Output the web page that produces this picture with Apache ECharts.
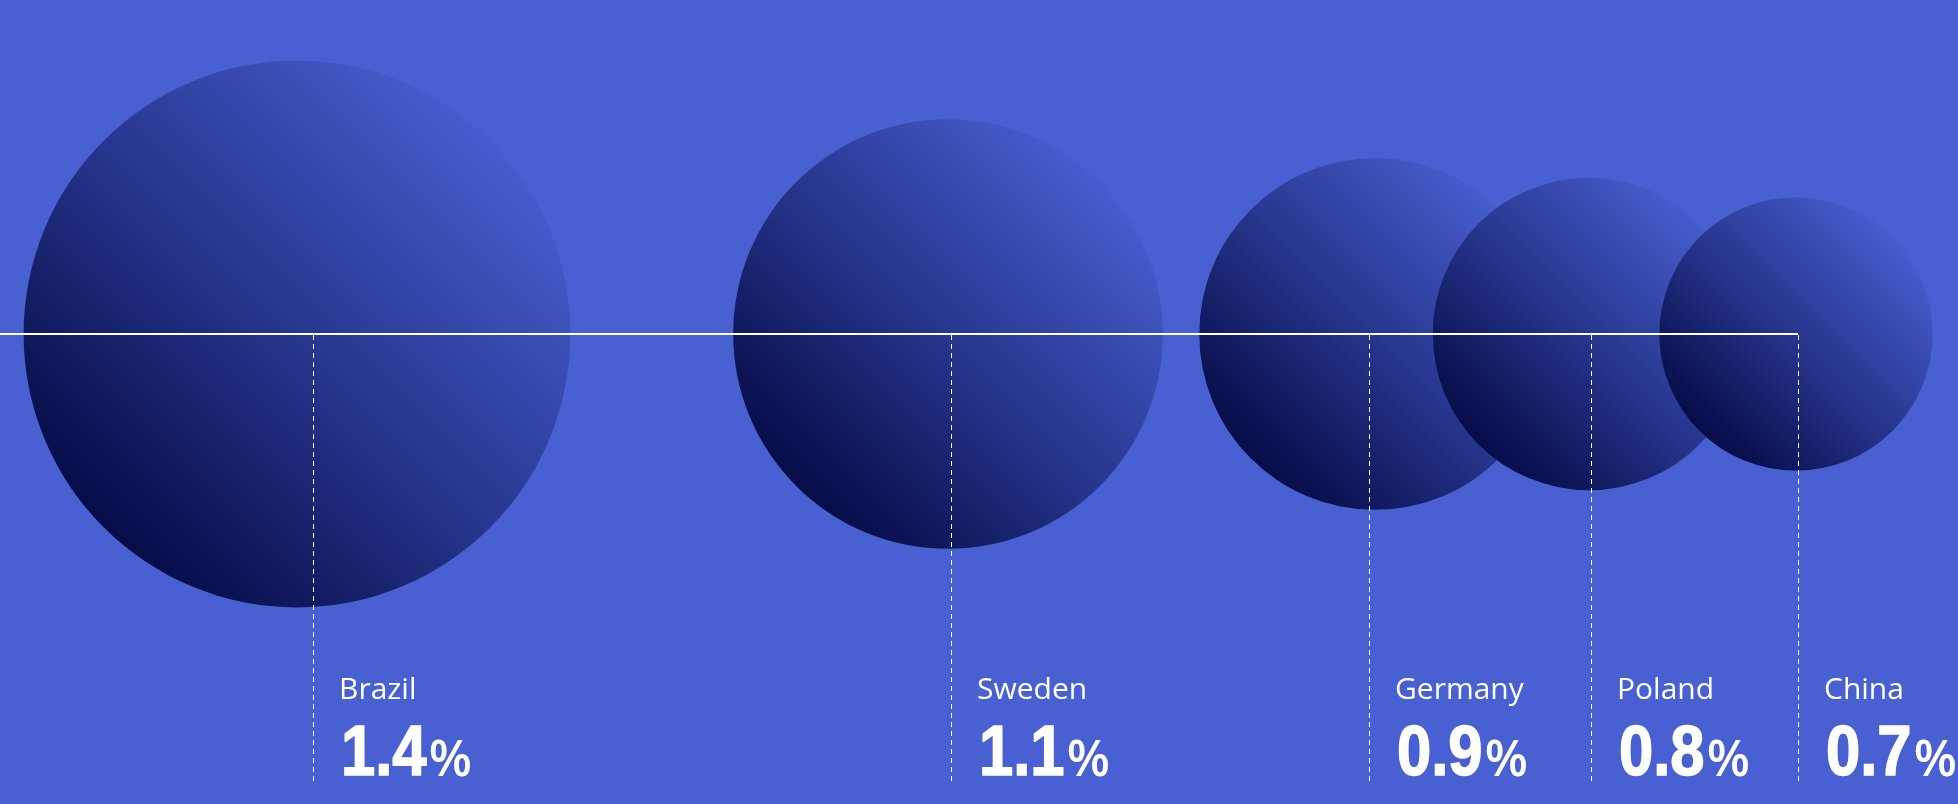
<!DOCTYPE html>
<html lang="en">
<head>
  <meta charset="UTF-8">
  <title>Share by country</title>
  <script type="text/javascript" src="https://cdn.jsdelivr.net/npm/echarts@6/dist/echarts.min.js"></script>
  <style>
    html, body { margin: 0; padding: 0; background: #4860d2; }
    #main { width: 1958px; height: 804px; }
  </style>
</head>
<body>
  <div id="main"></div>
  <script type="text/javascript">
    // data
    var countries = ['Brazil', 'Sweden', 'Germany', 'Poland', 'China'];
    var shares = [1.4, 1.1, 0.9, 0.8, 0.7];          // %
    var bubbleX = [297, 948, 1375, 1589, 1796];       // bubble centres along the strip
    var markerX = [313, 951, 1369, 1591, 1798];       // label markers along the strip

    var yMin = -1.3383, yMax = 1;
    var pxPerShare = 390.6;                           // bubble diameter per 1 %

    var numFont = 'bold 70px "Liberation Sans"';
    var numScale = 0.88;
    var pctFont = '600 50px "Open Sans"';
    var nameFont = '30px "Open Sans"';

    var measureCtx = document.createElement('canvas').getContext('2d');
    function textWidth(txt, font) {
      measureCtx.font = font;
      return measureCtx.measureText(txt).width;
    }

    var myChart = echarts.init(document.getElementById('main'), null, {
      width: 1958,
      height: 804
    });

    var option = {
      backgroundColor: '#4860d2',
      animation: false,
      grid: { left: 0, right: 0, top: 0, bottom: 23 },
      xAxis: { type: 'value', min: 0, max: 1958, show: false },
      yAxis: { type: 'value', min: yMin, max: yMax, show: false },
      series: [
        {
          name: 'bubbles',
          type: 'scatter',
          symbol: 'circle',
          symbolSize: function (d) { return d[2] * pxPerShare; },
          data: bubbleX.map(function (x, i) { return [x, 0, shares[i]]; }),
          itemStyle: {
            opacity: 1,
            color: new echarts.graphic.LinearGradient(0, 1, 1, 0, [
              { offset: 0.12, color: '#040942' },
              { offset: 0.5, color: '#27368e' },
              { offset: 0.88, color: '#4860d2' }
            ])
          },
          silent: true,
          z: 1
        },
        {
          name: 'baseline',
          type: 'line',
          data: [[0, 0], [markerX[markerX.length - 1], 0]],
          symbol: 'none',
          lineStyle: { color: '#ffffff', width: 2 },
          silent: true,
          z: 3
        },
        {
          name: 'markers',
          type: 'custom',
          clip: false,
          silent: true,
          z: 4,
          data: markerX.map(function (x, i) { return [x, shares[i]]; }),
          renderItem: function (params, api) {
            var i = params.dataIndex;
            var x = api.value(0);
            var top = api.coord([x, 0]);
            var bot = api.coord([x, yMin]);
            var lx = Math.round(top[0]) + 0.5;
            var numTxt = api.value(1).toFixed(1);
            var numX = top[0] + 28;
            return {
              type: 'group',
              children: [
                {
                  type: 'line',
                  shape: { x1: lx, y1: top[1] + 1, x2: lx, y2: bot[1] },
                  style: { stroke: '#ffffff', lineWidth: 1, lineDash: [5, 4] }
                },
                {
                  type: 'text',
                  x: top[0] + 26,
                  y: bot[1] - 91,
                  style: {
                    text: countries[i],
                    font: nameFont,
                    fill: '#ffffff',
                    textAlign: 'left',
                    textVerticalAlign: 'middle'
                  }
                },
                {
                  type: 'text',
                  x: numX,
                  y: bot[1] - 25,
                  scaleX: numScale,
                  style: {
                    text: numTxt,
                    font: numFont,
                    fill: '#ffffff',
                    stroke: '#ffffff',
                    lineWidth: 1.5,
                    textAlign: 'left',
                    textVerticalAlign: 'middle'
                  }
                },
                {
                  type: 'text',
                  x: numX + textWidth(numTxt, numFont) * numScale + 2,
                  y: bot[1] - 19,
                  style: {
                    text: '%',
                    font: pctFont,
                    fill: '#ffffff',
                    textAlign: 'left',
                    textVerticalAlign: 'middle'
                  }
                }
              ]
            };
          }
        }
      ]
    };

    myChart.setOption(option);
  </script>
</body>
</html>
